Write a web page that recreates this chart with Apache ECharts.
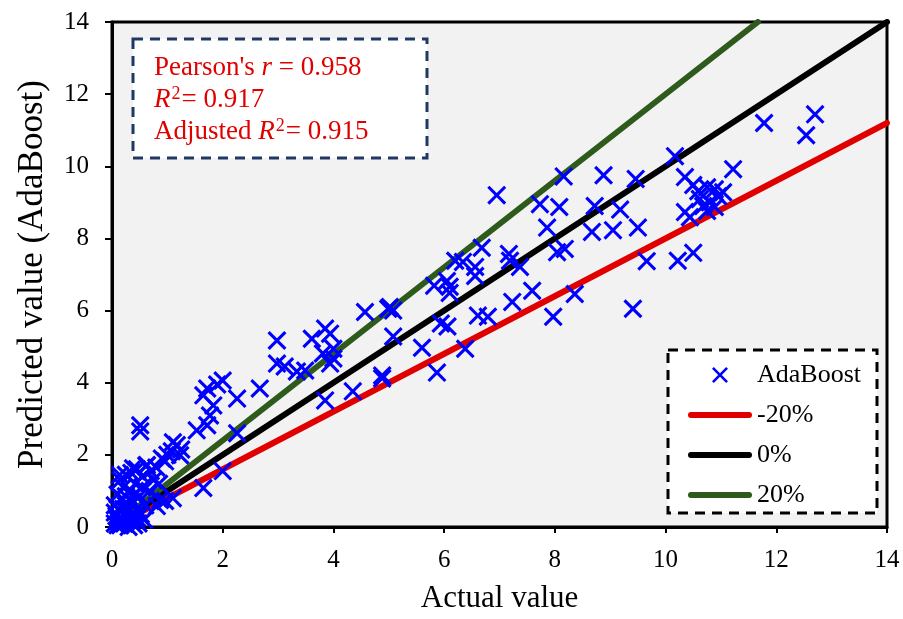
<!DOCTYPE html>
<html>
<head>
<meta charset="utf-8">
<script src="https://cdn.jsdelivr.net/npm/echarts@6/dist/echarts.min.js"></script>
<style>
  html, body { margin: 0; padding: 0; background: #fff; }
  #chart { width: 903px; height: 619px; }
</style>
</head>
<body>
<div id="chart"></div>
<script>
const axisTicks = [0, 2, 4, 6, 8, 10, 12, 14];

// [actual, predicted]
const adaBoostPoints = [
  [0.05, 0.1], [0.08, 0.3], [0.1, 0.05], [0.12, 0.5], [0.15, 0.2], [0.18, 0.8], [0.2, 0.35], [0.22, 0.1],
  [0.25, 0.6], [0.28, 0.25], [0.3, 0.45], [0.32, 1.0], [0.35, 0.15], [0.38, 0.7], [0.4, 0.3], [0.42, 1.2],
  [0.45, 0.5], [0.48, 0.1], [0.5, 0.85], [0.52, 0.35], [0.55, 1.1], [0.6, 0.6], [0.15, 1.3], [0.1, 0.9],
  [0.25, 1.45], [0.35, 1.5], [0.45, 1.6], [0.55, 1.4], [0.62, 1.7], [0.7, 1.55], [0.75, 1.3], [0.8, 1.65],
  [0.68, 1.0], [0.3, 0.0], [0.05, 0.6], [0.2, 1.1], [0.4, 0.9], [0.14, 1.44], [0.38, 1.63], [0.63, 1.72],
  [0.58, 0.2], [0.9, 1.9], [1.0, 2.0], [0.85, 1.2], [0.81, 0.58], [0.96, 0.72], [1.1, 0.8], [0.87, 0.75],
  [0.1, 0.2], [0.2, 0.5], [0.3, 0.2], [0.15, 0.05], [0.4, 0.05], [0.25, 0.85], [0.05, 0.4], [0.45, 0.25],
  [0.51, 2.82], [0.51, 2.65], [1.17, 2.27], [1.08, 2.1], [1.23, 1.99], [0.96, 1.82], [1.1, 2.35], [1.25, 2.15],
  [1.72, 3.84], [1.9, 3.95], [2.0, 4.06], [1.65, 3.65], [1.83, 3.37], [1.77, 3.09], [1.72, 2.82], [1.53, 2.68],
  [2.26, 2.6], [2.26, 3.56], [2.67, 3.84], [2.0, 1.55], [1.65, 1.08],
  [2.98, 5.17], [2.98, 4.53], [3.12, 4.45], [3.34, 4.31], [3.49, 4.34], [3.61, 5.22], [3.85, 5.5], [3.94, 5.36],
  [4.0, 4.94], [3.81, 4.81], [4.0, 4.67], [3.94, 4.53], [3.85, 3.51], [4.35, 3.76], [4.57, 5.96], [4.88, 4.2],
  [4.88, 4.12], [4.99, 6.05], [5.08, 6.0], [5.02, 6.1], [5.08, 5.28], [5.6, 4.97], [5.87, 4.28],
  [5.82, 6.69], [6.1, 6.49], [5.94, 5.64], [6.06, 5.56],
  [6.95, 9.2], [7.73, 8.95], [8.08, 8.87], [8.72, 8.9], [9.18, 8.8], [7.86, 8.3], [8.67, 8.18], [9.05, 8.23],
  [9.5, 8.3], [6.68, 7.74], [8.04, 7.62], [8.18, 7.71], [7.17, 7.57], [7.19, 7.38], [7.37, 7.21], [6.2, 7.38],
  [6.34, 7.35], [6.56, 7.21], [6.56, 6.96], [6.05, 6.82], [6.1, 6.66], [7.59, 6.55], [8.36, 6.46], [7.23, 6.24],
  [6.61, 5.86], [6.79, 5.83], [7.97, 5.83], [9.41, 6.05], [6.38, 4.94], [9.66, 7.37],
  [8.16, 9.72], [8.88, 9.75], [9.46, 9.65],
  [12.7, 11.44], [11.78, 11.2], [12.54, 10.86], [10.17, 10.28], [11.22, 9.92], [10.35, 9.7], [10.5, 9.48],
  [10.59, 9.31], [10.75, 9.42], [10.89, 9.36], [11.04, 9.28], [10.95, 9.17], [10.62, 9.09], [10.8, 9.0],
  [10.68, 8.9], [10.89, 8.87], [10.75, 8.76], [10.35, 8.73], [10.44, 8.59], [10.22, 7.38], [10.5, 7.6]
];

const minus20Line = [[0, 0], [14, 11.2]];
const zeroLine = [[0, 0], [14, 14]];
const plus20Line = [[0, 0], [11.667, 14]];

const seriesNames = ['AdaBoost', '-20%', '0%', '20%'];
const statLines = [
  "Pearson's {i|r} = 0.958",
  '{i|R}{sup|2}= 0.917',
  'Adjusted {i|R}{sup|2}= 0.915'
];

const font = '"Liberation Serif", "Times New Roman", serif';
const crossPath = 'path://M0,1.15L1.15,0L5,3.85L8.85,0L10,1.15L6.15,5L10,8.85L8.85,10L5,6.15L1.15,10L0,8.85L3.85,5Z';
const barPath = 'path://M3,0L61,0A3,3 0 0 1 61,6L3,6A3,3 0 0 1 3,0Z';

const chart = echarts.init(document.getElementById('chart'), null, { renderer: 'canvas' });

const lineSeries = (name, data, color) => ({
  name,
  type: 'line',
  data,
  symbol: 'none',
  showSymbol: false,
  z: 2,
  lineStyle: { width: 6, color, cap: 'round' },
  itemStyle: { color },
  animation: false
});

chart.setOption({
  animation: false,
  textStyle: { fontFamily: font },
  grid: {
    left: 112, right: 16, top: 22, bottom: 90,
    show: true, backgroundColor: '#f2f2f2', borderColor: '#000', borderWidth: 3
  },
  xAxis: {
    type: 'value', min: 0, max: 14, interval: 2,
    name: 'Actual value', nameLocation: 'middle', nameGap: 56,
    nameTextStyle: { fontFamily: font, fontSize: 31, color: '#000' },
    axisLine: { lineStyle: { color: '#000', width: 3 } },
    axisTick: { show: true, inside: false, length: 6, lineStyle: { color: '#000', width: 2 } },
    axisLabel: { fontFamily: font, fontSize: 25, color: '#000', margin: 21,
      formatter: (v) => axisTicks.includes(v) ? String(v) : '' },
    splitLine: { show: false }
  },
  yAxis: {
    type: 'value', min: 0, max: 14, interval: 2,
    name: 'Predicted value (AdaBoost)', nameLocation: 'middle', nameGap: 62,
    nameTextStyle: { fontFamily: font, fontSize: 35, color: '#000' },
    axisLine: { lineStyle: { color: '#000', width: 3 } },
    axisTick: { show: true, inside: false, length: 7, lineStyle: { color: '#000', width: 2 } },
    axisLabel: { fontFamily: font, fontSize: 25, color: '#000', margin: 23,
      formatter: (v) => axisTicks.includes(v) ? String(v) : '' },
    splitLine: { show: false }
  },
  legend: {
    orient: 'vertical', left: 683, top: 357,
    itemWidth: 64, itemHeight: 16, itemGap: 14,
    symbolKeepAspect: true,
    textStyle: { fontFamily: font, fontSize: 26, color: '#000' },
    data: [
      { name: seriesNames[0], icon: crossPath },
      { name: seriesNames[1], icon: barPath },
      { name: seriesNames[2], icon: barPath },
      { name: seriesNames[3], icon: barPath }
    ],
    z: 20
  },
  graphic: [
    {
      type: 'rect', z: 10,
      shape: { x: 133, y: 39, width: 294, height: 119 },
      style: { fill: '#fff', stroke: '#1f3864', lineWidth: 3, lineDash: [10, 7] }
    },
    {
      type: 'text', z: 11, left: 154, top: 52,
      style: {
        text: statLines.join('\n'),
        font: '27px ' + font,
        fill: '#e00000',
        lineHeight: 32,
        rich: {
          i: { fontStyle: 'italic', fontFamily: font, fontSize: 27, fill: '#e00000', lineHeight: 32 },
          sup: { fontFamily: font, fontSize: 18, fill: '#e00000', padding: [0, 1, 12, 1], lineHeight: 32 }
        }
      }
    },
    {
      type: 'rect', z: 10,
      shape: { x: 668, y: 350, width: 209, height: 163 },
      style: { fill: '#fff', stroke: '#000', lineWidth: 3, lineDash: [10, 7] }
    }
  ],
  series: [
    {
      name: seriesNames[0],
      type: 'scatter',
      data: adaBoostPoints,
      symbol: crossPath,
      symbolSize: 19,
      symbolKeepAspect: true,
      itemStyle: { color: '#0000ff', opacity: 1 },
      z: 5
    },
    lineSeries(seriesNames[1], minus20Line, '#e00000'),
    lineSeries(seriesNames[2], zeroLine, '#000000'),
    lineSeries(seriesNames[3], plus20Line, '#2e5a1c')
  ]
});
</script>
</body>
</html>
